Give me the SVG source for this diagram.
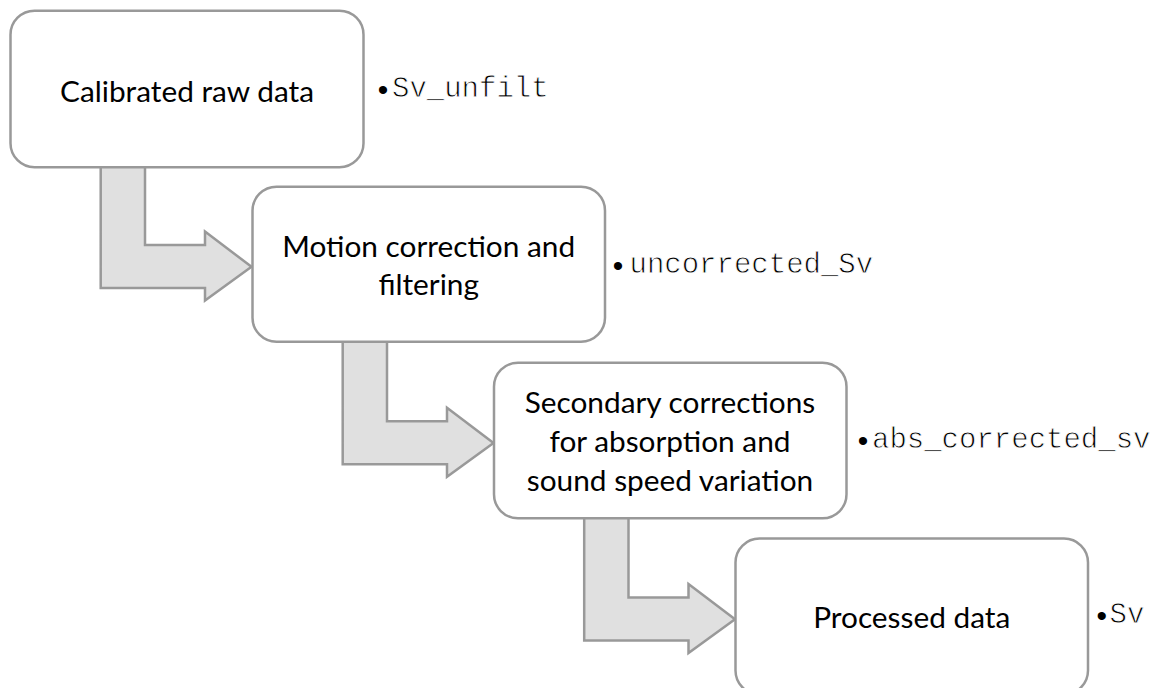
<svg xmlns="http://www.w3.org/2000/svg" xmlns:xlink="http://www.w3.org/1999/xlink" width="1161" height="688" viewBox="0 0 1161 688">
<style>
.box{fill:#ffffff;stroke:#999999;stroke-width:2.5}
.arrow{fill:#e0e0e0;stroke:#999999;stroke-width:2.5;stroke-linejoin:miter}
.lbl{font-family:Lato,"Open Sans","Noto Sans",sans-serif;font-size:29.8px;fill:#000000;text-anchor:middle}
.side{font-family:"Liberation Mono","Courier New",monospace;font-size:29px;fill:#000000;stroke:#ffffff;stroke-width:0.8;paint-order:fill}
.bul{font-family:"Liberation Sans",Arial,sans-serif;font-size:30px;fill:#000000;text-anchor:middle}
</style>
<defs>
<path id="bend" d="M100.7,164 L145,164 L145,245 L205,245 L205,231.5 L251.5,266.8 L205,300.5 L205,288 L100.7,288 Z"/>
</defs>
<rect width="1161" height="688" fill="#ffffff"/>
<g id="connectors">
<use xlink:href="#bend" class="arrow"/>
<use xlink:href="#bend" class="arrow" transform="translate(242,176.3)"/>
<use xlink:href="#bend" class="arrow" transform="translate(483.5,352.5)"/>
</g>
<g id="node1">
<rect class="box" x="10.5" y="10.7" width="353" height="156.5" rx="24"/>
<text class="lbl" x="187" y="101.7">Calibrated raw data</text>
<text class="bul" x="383" y="99.5">•</text>
<text class="side" x="392" y="96.7">Sv_unfilt</text>
</g>
<g id="node2">
<rect class="box" x="252.5" y="186.7" width="352.5" height="155" rx="24"/>
<text class="lbl" x="428.7" y="256.7">Motion correction and</text>
<text class="lbl" x="428.7" y="295">filtering</text>
<text class="bul" x="618" y="276">•</text>
<text class="side" x="629.5" y="273.3">uncorrected_Sv</text>
</g>
<g id="node3">
<rect class="box" x="494" y="362.7" width="352.5" height="155.6" rx="24"/>
<text class="lbl" x="670" y="413.3">Secondary corrections</text>
<text class="lbl" x="670" y="452">for absorption and</text>
<text class="lbl" x="670" y="491">sound speed variation</text>
<text class="bul" x="863" y="451">•</text>
<text class="side" x="872" y="448.3">abs_corrected_sv</text>
</g>
<g id="node4">
<rect class="box" x="735.5" y="538.5" width="352.5" height="156" rx="24"/>
<text class="lbl" x="911.7" y="628.3">Processed data</text>
<text class="bul" x="1101.7" y="626">•</text>
<text class="side" x="1109.5" y="623.3">Sv</text>
</g>
</svg>
